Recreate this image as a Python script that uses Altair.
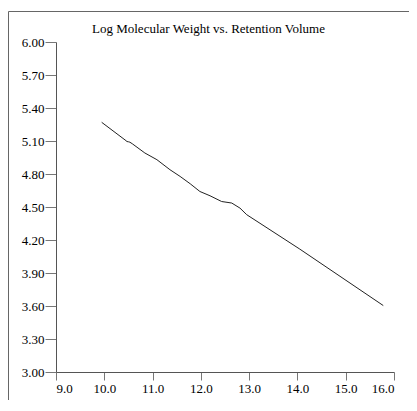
import altair as alt
import pandas as pd

title_text = "Log Molecular Weight vs. Retention Volume"
ret_volume = [9.946, 10.45, 10.47, 10.50, 10.53, 10.58, 10.84, 11.09, 11.36, 11.57,
              11.78, 11.98, 12.19, 12.43, 12.64, 12.81, 12.95, 14.05, 15.778]
log_mw = [5.270, 5.103, 5.095, 5.093, 5.089, 5.075, 4.991, 4.930, 4.839, 4.778,
          4.711, 4.641, 4.602, 4.550, 4.536, 4.490, 4.430, 4.117, 3.604]
x_ticks = [9, 10, 11, 12, 13, 14, 15, 16]
y_ticks = [3.0, 3.3, 3.6, 3.9, 4.2, 4.5, 4.8, 5.1, 5.4, 5.7, 6.0]

df = pd.DataFrame({"x": ret_volume, "y": log_mw})
one = pd.DataFrame({"t": [title_text]})

FONT = "Liberation Serif"

line = alt.Chart(df).mark_line(color="#222", strokeWidth=1).encode(
    x=alt.X("x:Q", title=None,
            scale=alt.Scale(domain=[9, 16], nice=False, zero=False),
            axis=alt.Axis(values=x_ticks, format=".1f", tickSize=8, labelPadding=2,
                          grid=False)),
    y=alt.Y("y:Q", title=None,
            scale=alt.Scale(domain=[3, 6], nice=False, zero=False),
            axis=alt.Axis(values=y_ticks, format=".2f", tickSize=11, labelPadding=1,
                          grid=False)),
)

frame_left = alt.Chart(one).mark_rule(color="#666", strokeWidth=1).encode(
    x=alt.value(-47.5), y=alt.value(-30.5), y2=alt.value(400)
)
frame_top = alt.Chart(one).mark_rule(color="#666", strokeWidth=1).encode(
    x=alt.value(-47.5), x2=alt.value(400), y=alt.value(-30.5)
)
title = alt.Chart(one).mark_text(
    align="left", baseline="middle", font=FONT, fontSize=13, color="black"
).encode(text="t:N", x=alt.value(36), y=alt.value(-13))

chart = alt.layer(frame_left, frame_top, title, line).properties(
    width=338,
    height=330,
    padding={"left": 48, "top": 34, "right": 15, "bottom": 28},
    autosize=alt.AutoSizeParams(type="none"),
).configure_axis(
    domainColor="#555",
    tickColor="#777",
    labelFont=FONT,
    labelFontSize=13,
    labelColor="black",
).configure_view(strokeWidth=0)

chart.save("out.html", embed_options={"renderer": "svg", "actions": False})
